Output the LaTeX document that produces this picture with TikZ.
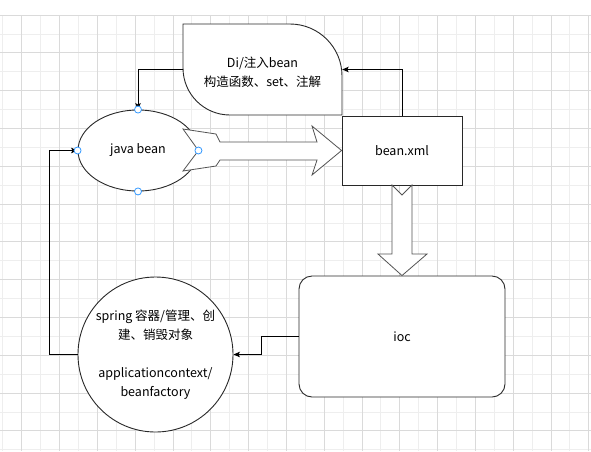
\documentclass[tikz,border=0pt]{standalone}
\usepackage{fontspec}
\setmainfont{Noto Sans CJK SC}
\usetikzlibrary{arrows.meta, positioning, calc, shapes.geometric}
\definecolor{gridlight}{RGB}{238,238,238}
\definecolor{griddark}{RGB}{218,218,218}
\definecolor{handleblue}{RGB}{51,153,255}
\definecolor{linegray}{RGB}{40,40,40}
\tikzset{
  bx/.style={draw=linegray, fill=white, line width=0.9pt, align=center,
             font=\fontsize{12.5pt}{19pt}\selectfont},
  txt/.style={align=center, font=\fontsize{12.5pt}{19pt}\selectfont},
  fat/.style={draw=linegray!80, fill=white, line width=0.8pt, line join=miter},
  handle/.style={circle, draw=handleblue, fill=white, line width=0.8pt,
                 minimum size=7pt, inner sep=0pt},
  arr/.style={-{Stealth[length=6.5pt, width=5.5pt, inset=1.5pt]}, line width=0.9pt, draw=black},
}
\begin{document}
\begin{tikzpicture}[x=1pt, y=-1pt]
    \useasboundingbox (0,0) rectangle (591,451);
    % background grid
    \foreach \x in {2.8,40.6,...,591} \draw[gridlight, line width=0.8pt] (\x,15) -- (\x,451);
    \foreach \y in {33.9,71.7,...,451} \draw[gridlight, line width=0.8pt] (0,\y) -- (591,\y);
    \foreach \x in {21.7,59.5,...,591} \draw[griddark, line width=0.8pt] (\x,15) -- (\x,451);
    \foreach \y in {15,52.8,...,451} \draw[griddark, line width=0.8pt] (0,\y) -- (591,\y);

    % nodes
    \node[txt, minimum width=159pt, minimum height=91pt] (di) at (262.5,69.5) {};
    \draw[bx] (183,24) -- (290,24) .. controls (318.7,24) and (342,47.3) .. (342,76)
              -- (342,115) -- (230,115) .. controls (204,115) and (183,94) .. (183,68) -- cycle;
    \node[txt] at ($(di.center)+(0,3)$) {Di/注入bean\\构造函数、set、注解};

    \node[bx, ellipse, minimum width=120pt, minimum height=81pt, inner sep=0pt] (jb) at (138,150.5) {java bean};
    \node[bx, minimum width=120pt, minimum height=69pt] (xml) at (402,150.5) {bean.xml};
    \node[bx, rounded corners=13pt, minimum width=206pt, minimum height=121pt] (ioc) at (402,336.5) {ioc};
    \node[bx, circle, minimum size=155pt, inner sep=0pt] (ctx) at (155.5,354.5)
         {spring 容器/管理、创\\建、销毁对象\\[19pt]applicationcontext/\\beanfactory};

    % fat arrows
    \draw[fat] (jb.east) -- (183,129) -- (216,134) -- (220,142) -- (317,142) -- (312,126)
               -- (xml.west) -- (312,175) -- (317,160) -- (220,160) -- (216,166) -- (183,171) -- cycle;
    \draw[fat] (392,185) -- (402,195) -- (412,185) -- (412,254) -- (427,254)
               -- (ioc.north) -- (378,254) -- (392,254) -- cycle;

    % connectors
    \draw[arr] (ioc.west) -- ++(-37,0) |- (ctx.east);
    \draw[arr] (ctx.west) -- ++(-28,0) |- (jb.west);
    \draw[arr] (di.west) -| (jb.north);
    \draw[arr] (xml.north) |- (di.east);

    % selection handles
    \foreach \a in {north, south, east, west} \node[handle] at (jb.\a) {};
\end{tikzpicture}
\end{document}
